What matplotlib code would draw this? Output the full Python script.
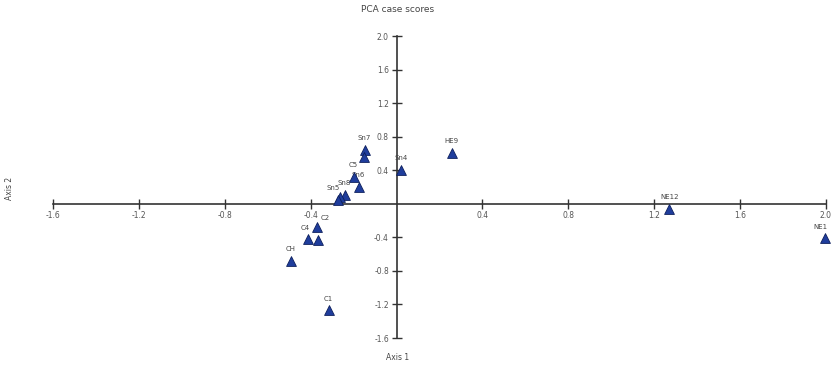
"""PCA case scores (PAST-style biplot with axes crossing at the origin)."""
import matplotlib
matplotlib.use("Agg")
import matplotlib.pyplot as plt  # noqa: E402

# case scores
labels = ["Sn7", "", "Sn4", "HE9", "C5", "Sn6", "Sn8", "", "Sn5",
          "C2", "C4", "", "CH", "C1", "NE12", "NE1"]
axis1 = [-0.149, -0.153, 0.019, 0.256, -0.200, -0.177, -0.242, -0.262, -0.274,
         -0.372, -0.414, -0.367, -0.493, -0.316, 1.270, 1.995]
axis2 = [0.645, 0.561, 0.406, 0.609, 0.322, 0.203, 0.107, 0.080, 0.048,
         -0.275, -0.418, -0.430, -0.680, -1.266, -0.060, -0.406]
# label offsets in points (dx, dy), to keep them off each other
offsets = [(0, 6), (0, 6), (0, 6), (0, 6), (0, 6), (0, 6), (0, 6), (0, 6),
           (-3, 6), (6, 4), (-2, 6), (0, 6), (0, 6), (0, 6), (0, 6), (-3, 6)]

xticks = [-1.6, -1.2, -0.8, -0.4, 0.4, 0.8, 1.2, 1.6, 2.0]
yticks = [2.0, 1.6, 1.2, 0.8, 0.4, -0.4, -0.8, -1.2, -1.6]

W, H = 831, 368
fig = plt.figure(figsize=(W / 100, H / 100), dpi=100)
# axes box spans exactly the tick range: x -1.6..2.0, y -1.6..2.0
ax = fig.add_axes([53 / W, (H - 338) / H, 773 / W, 302 / H])
ax.set_xlim(-1.6, 2.0)
ax.set_ylim(-1.6, 2.0)

for s in ("top", "right"):
    ax.spines[s].set_visible(False)
ax.spines["left"].set_position(("data", 0))
ax.spines["bottom"].set_position(("data", 0))
for s in ("left", "bottom"):
    ax.spines[s].set_color("#333333")
    ax.spines[s].set_linewidth(1.2)

ax.set_xticks(xticks)
ax.set_yticks(yticks)
ax.set_xticklabels([f"{t:.1f}" for t in xticks])
ax.set_yticklabels([f"{t:.1f}" for t in yticks])
ax.tick_params(direction="inout", length=7, width=1, color="#333333",
               labelsize=5.5, labelcolor="#555555", pad=2)
for t in ax.get_xticklabels() + ax.get_yticklabels():
    t.set_clip_on(False)

ax.scatter(axis1, axis2, marker="^", s=50, c="#1f3d9c", edgecolors="#0d1f5c",
           linewidths=0.6, zorder=5, clip_on=False)
for lab, x, y, off in zip(labels, axis1, axis2, offsets):
    if lab:
        ax.annotate(lab, (x, y), xytext=off, textcoords="offset points",
                    ha="center", va="bottom", fontsize=5, color="#444444",
                    annotation_clip=False)

fig.text(398 / W, 1 - 10 / H, "PCA case scores", ha="center", va="center",
         fontsize=6.5, color="#444444")
fig.text(398 / W, 1 - 358 / H, "Axis 1", ha="center", va="center",
         fontsize=5.5, color="#444444")
fig.text(9 / W, 1 - 188 / H, "Axis 2", ha="center", va="center",
         rotation=90, fontsize=5.5, color="#444444")

fig.savefig("out.png", dpi=100)
